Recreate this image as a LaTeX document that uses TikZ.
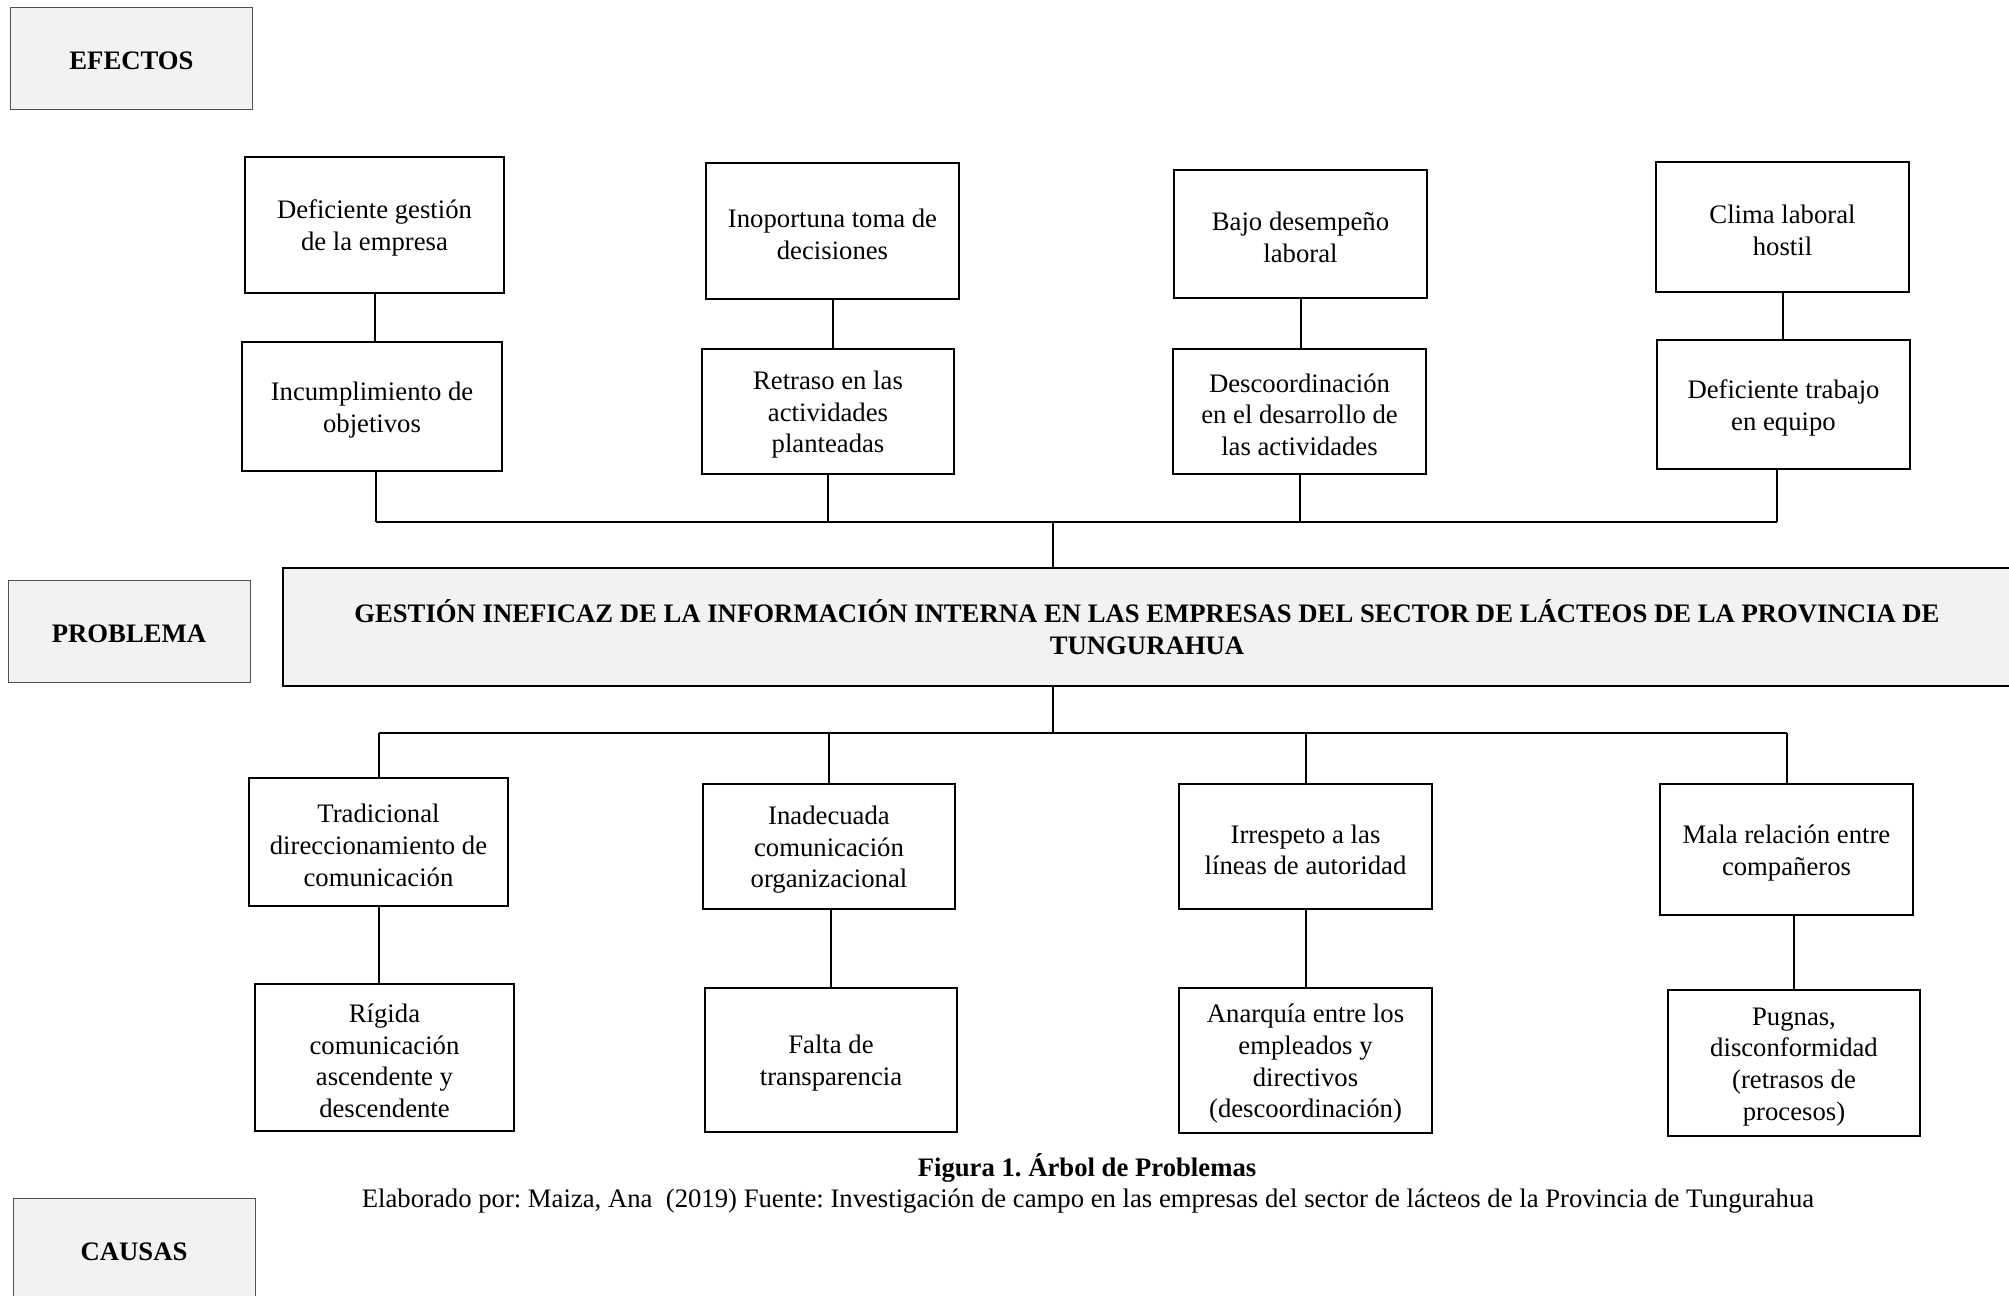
\documentclass[tikz,border=0pt]{standalone}
\usepackage{fontspec}
\setmainfont{Liberation Serif}
\frenchspacing
\definecolor{lgray}{HTML}{F2F2F2}
\definecolor{lborder}{HTML}{505050}
\newcommand\topstrut{\rule{0pt}{12.6pt}}
\begin{document}
\begin{tikzpicture}[x=0.5pt,y=-0.5pt,
  txt/.style={font=\fontsize{13.35}{15.8}\selectfont},
  box/.style={draw=black, line width=1pt, fill=white, align=center, inner sep=0pt, txt},
  lab/.style={draw=lborder, line width=0.5pt, fill=lgray, inner sep=0pt,
              font=\fontsize{13.35}{15.8}\selectfont\bfseries,
              execute at begin node={\rule{0pt}{11.8pt}},
              minimum width=121pt, minimum height=51pt},
  prob/.style={draw=black, line width=1.3pt, fill=lgray, align=center, inner sep=0pt,
               font=\fontsize{13.35}{16}\selectfont\bfseries},
  conn/.style={draw=black, line width=1pt}]
\useasboundingbox (0,0) rectangle (2009,1296);

% side labels
\node[lab] (lefe) at (131.5,58) {EFECTOS};
\node[lab] (lpro) at (129,631) {PROBLEMA};
\node[lab] (lcau) at (134,1249) {CAUSAS};

% effects, row 1
\node[box, minimum width=129.5pt, minimum height=68pt] (e1) at (374.5,225) {\topstrut Deficiente gestión\\de la empresa};
\node[box, minimum width=126.5pt, minimum height=68pt] (e2) at (832.5,231) {\topstrut Inoportuna toma de\\decisiones};
\node[box, minimum width=126.5pt, minimum height=64pt] (e3) at (1300.5,234) {\topstrut Bajo desempeño\\laboral};
\node[box, minimum width=126.5pt, minimum height=65pt] (e4) at (1782.5,227) {\topstrut Clima laboral\\hostil};

% effects, row 2
\node[box, minimum width=130pt, minimum height=64.5pt] (f1) at (372,406.5) {\topstrut Incumplimiento de\\objetivos};
\node[box, minimum width=126pt, minimum height=62.5pt] (f2) at (828,411.5) {\topstrut Retraso en las\\actividades\\planteadas};
\node[box, minimum width=126.5pt, minimum height=62.5pt] (f3) at (1299.5,411.5) {\topstrut Descoordinación\\en el desarrollo de\\las actividades};
\node[box, minimum width=126.5pt, minimum height=64.5pt] (f4) at (1783.5,404.5) {\topstrut Deficiente trabajo\\en equipo};

% problem
\node[prob, minimum width=864pt, minimum height=59pt] (p) at (1147,627)
  {GESTIÓN INEFICAZ DE LA INFORMACIÓN INTERNA EN LAS EMPRESAS DEL SECTOR DE LÁCTEOS DE LA PROVINCIA DE\\TUNGURAHUA};

% causes, row 1
\node[box, minimum width=129.5pt, minimum height=64pt] (c1) at (378.5,842) {\topstrut Tradicional\\direccionamiento de\\comunicación};
\node[box, minimum width=126pt, minimum height=62.5pt] (c2) at (829,846.5) {\topstrut Inadecuada\\comunicación\\organizacional};
\node[box, minimum width=126.5pt, minimum height=62.5pt] (c3) at (1305.5,846.5) {\topstrut Irrespeto a las\\líneas de autoridad};
\node[box, minimum width=126.5pt, minimum height=65.5pt] (c4) at (1786.5,849.5) {\topstrut Mala relación entre\\compañeros};

% causes, row 2
\node[box, minimum width=129.5pt, minimum height=73.5pt] (d1) at (384.5,1057.5) {\topstrut Rígida\\comunicación\\ascendente y\\descendente};
\node[box, minimum width=126pt, minimum height=72pt] (d2) at (831,1060) {\topstrut Falta de\\transparencia};
\node[box, minimum width=126.5pt, minimum height=72.5pt] (d3) at (1305.5,1060.5) {\topstrut Anarquía entre los\\empleados y\\directivos\\(descoordinación)};
\node[box, minimum width=126pt, minimum height=73pt] (d4) at (1794,1063) {\topstrut Pugnas,\\disconformidad\\(retrasos de\\procesos)};

% caption
\node[font=\fontsize{13.35}{15.8}\selectfont\bfseries] (cap) at (1087,1168) {Figura 1. Árbol de Problemas};
\node[txt] (src) at (1088,1201) {Elaborado por: Maiza, Ana\ \ (2019) Fuente: Investigación de campo en las empresas del sector de lácteos de la Provincia de Tungurahua};

% connectors effects
\coordinate (bt) at (1053,522);
\coordinate (bb) at (1053,733);
\draw[conn] (e1.south) -- (e1.south |- f1.north);
\draw[conn] (e2.south) -- (e2.south |- f2.north);
\draw[conn] (e3.south) -- (e3.south |- f3.north);
\draw[conn] (e4.south) -- (e4.south |- f4.north);
\draw[conn] ([xshift=2pt]f1.south) -- ([xshift=2pt]f1.south |- bt);
\draw[conn] (f2.south) -- (f2.south |- bt);
\draw[conn] (f3.south) -- (f3.south |- bt);
\draw[conn] ([xshift=-3.25pt]f4.south) -- ([xshift=-3.25pt]f4.south |- bt);
\draw[conn] ([xshift=2pt]f1.south |- bt) -- ([xshift=-3.25pt]f4.south |- bt);
\draw[conn] (bt) -- (bt |- p.north);

% connectors causes
\draw[conn] (bb |- p.south) -- (bb);
\draw[conn] (c1.north |- bb) -- (c4.north |- bb);
\draw[conn] (c1.north |- bb) -- (c1.north);
\draw[conn] (c2.north |- bb) -- (c2.north);
\draw[conn] (c3.north |- bb) -- (c3.north);
\draw[conn] (c4.north |- bb) -- (c4.north);
\draw[conn] (c1.south) -- (c1.south |- d1.north);
\draw[conn] (d2.north) -- (d2.north |- c2.south);
\draw[conn] (d3.north) -- (d3.north |- c3.south);
\draw[conn] (d4.north) -- (d4.north |- c4.south);
\end{tikzpicture}
\end{document}
